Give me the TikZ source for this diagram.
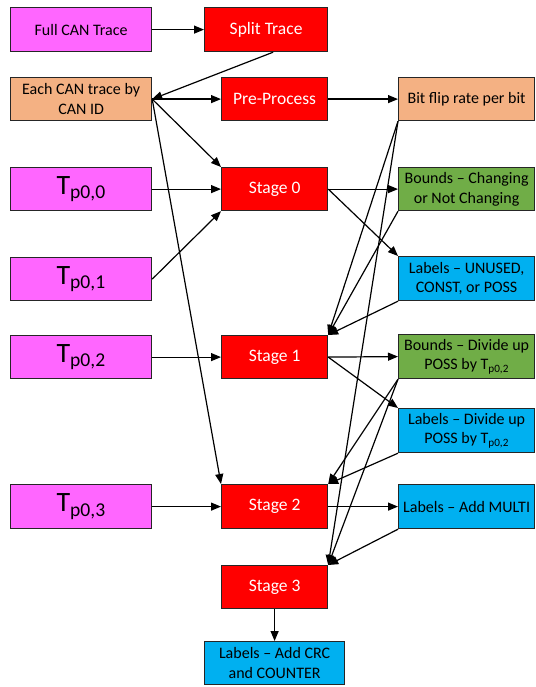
\documentclass[tikz,border=0pt]{standalone}
\usepackage{fontspec}
\setmainfont{Carlito}
\usetikzlibrary{arrows.meta}

\definecolor{pink}{HTML}{FF66FF}
\definecolor{peach}{HTML}{F4B183}
\definecolor{leaf}{HTML}{70AD47}
\definecolor{sky}{HTML}{00B0F0}

\tikzset{
    box/.style={draw=black!85, line width=1.2pt, anchor=north west, inner sep=0pt,
        align=center, font=\fontsize{16}{19.5}\selectfont},
    wide/.style={box, minimum width=141pt, minimum height=43pt},
    side/.style={box, minimum width=136pt, minimum height=43pt},
    stage/.style={box, fill=red, text=white, minimum width=106pt, minimum height=43pt,
        font=\fontsize{17.5}{21}\selectfont},
    tbox/.style={wide, fill=pink, font=\fontsize{28}{30}\selectfont},
    arr/.style={line width=1.2pt, -{Triangle[length=10pt,width=8pt]}}
}

\begin{document}
\begin{tikzpicture}[x=1pt, y=-1pt]
        \useasboundingbox (0,0) rectangle (535,687);

        % left column
        \node (full) [wide, fill=pink, minimum height=44pt] at (10,7) {Full CAN Trace};
        \node (each) [wide, fill=peach] at (10,77) {Each CAN trace by\\CAN ID};
        \node (tzero) [tbox] at (10,167) {T\textsubscript{p0,0}};
        \node (tone) [tbox] at (10,257) {T\textsubscript{p0,1}};
        \node (ttwo) [tbox] at (10,335) {T\textsubscript{p0,2}};
        \node (tthree) [tbox, minimum height=44pt] at (10,484) {T\textsubscript{p0,3}};

        % middle column
        \node (split) [stage, minimum width=123pt, minimum height=44pt] at (204,7) {Split Trace};
        \node (pre) [stage] at (221,77) {Pre-Process};
        \node (stzero) [stage] at (221,167) {Stage 0};
        \node (stone) [stage] at (221,335) {Stage 1};
        \node (sttwo) [stage, minimum height=44pt] at (221,484) {Stage 2};
        \node (stthree) [stage] at (221,565) {Stage 3};
        \node (lblthree) [box, fill=sky, minimum width=140pt, minimum height=43pt] at (204,641)
            {Labels -- Add CRC\\and COUNTER};

        % right column
        \node (bitflip) [side, fill=peach] at (398,77) {Bit flip rate per bit};
        \node (bndzero) [side, fill=leaf] at (398,167) {Bounds -- Changing\\or Not Changing};
        \node (lblzero) [side, fill=sky, minimum height=44pt] at (398,256) {Labels -- UNUSED,\\CONST, or POSS};
        \node (bndone) [side, fill=leaf, minimum height=44pt] at (398,334)
            {Bounds -- Divide up\\POSS by T\textsubscript{p0,2}};
        \node (lblone) [side, fill=sky, minimum height=44pt] at (398,408)
            {Labels -- Divide up\\POSS by T\textsubscript{p0,2}};
        \node (lbltwo) [side, fill=sky, minimum height=44pt] at (398,484) {Labels -- Add MULTI};

        \path[arr] (full) edge (split);
        \path[arr] ([xshift=7pt]split.south) edge (each.east);
        %
        \path[arr] (each.east) edge (pre.west);
        \path[arr] (each.east) edge (stzero.north west);
        \path[arr] (each.east) edge (sttwo.north west);
        \path[arr] (pre.east) edge (bitflip.west);
        %
        \path[arr] (tzero.east) edge (stzero.west);
        \path[arr] (tone.east) edge (stzero.south west);
        \path[arr] (stzero.east) edge (bndzero.west);
        \path[arr] (stzero.east) edge (lblzero.north west);
        %
        \path[arr] (bitflip.south west) edge (stone.north east);
        \path[arr] (bndzero.south west) edge (stone.north east);
        \path[arr] (lblzero.south west) edge (stone.north east);
        \path[arr] (ttwo.east) edge (stone.west);
        \path[arr] (stone.east) edge (bndone.west);
        \path[arr] (stone.east) edge (lblone.north west);
        %
        \path[arr] (bndone.south west) edge (sttwo.north east);
        \path[arr] (lblone.south west) edge (sttwo.north east);
        \path[arr] (tthree.east) edge (sttwo.west);
        \path[arr] (sttwo.east) edge (lbltwo.west);
        %
        \path[arr] (bitflip.south west) edge (stthree.north east);
        \path[arr] (bndone.south west) edge (stthree.north east);
        \path[arr] (lbltwo.south west) edge (stthree.north east);
        \path[arr] (stthree.south) edge (lblthree.north);
\end{tikzpicture}
\end{document}
